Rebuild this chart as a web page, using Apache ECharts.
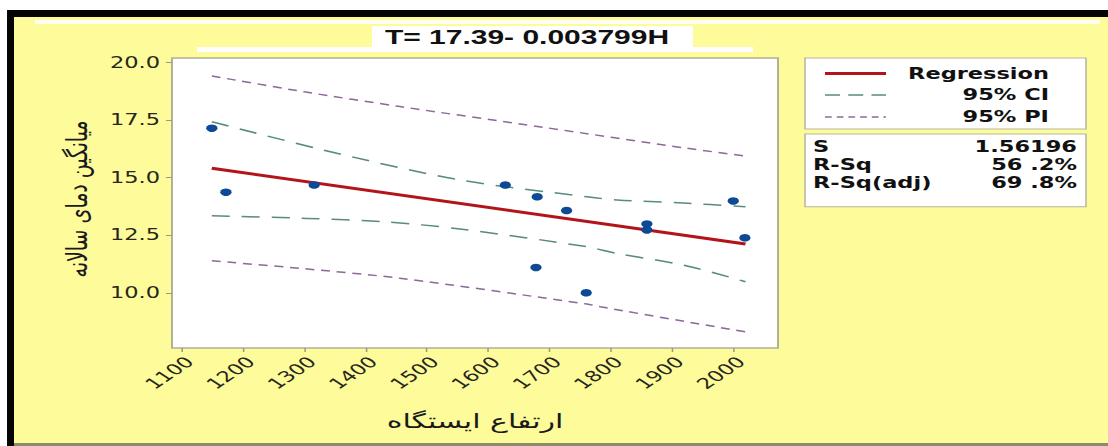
<!DOCTYPE html>
<html>
<head>
<meta charset="utf-8">
<script src="https://cdn.jsdelivr.net/npm/echarts@6/dist/echarts.min.js"></script>
<style>
html,body{margin:0;padding:0;background:#fff;overflow:hidden;width:1108px;height:446px}
#c{width:739px;height:446px;transform:scaleX(1.49932);transform-origin:0 0;}
</style>
</head>
<body>
<div id="c"></div>
<script>
// ---- data ----
const xTicks = [1100,1200,1300,1400,1500,1600,1700,1800,1900,2000];
const yTicks = [10,12.5,15,17.5,20];
const obsH = [1149,1172,1316,1628,1680,1728,1678,1760,1859,1859,2000,2019];
const obsT = [17.15,14.37,14.68,14.68,14.17,13.57,11.10,10.00,12.99,12.73,13.99,12.39];
const fitH = [1149,2020];
const fitT = [15.41,12.12];
const ciUpperH = [1149,1353,1554,1761,1810,1918,2020];
const ciUpperT = [17.43,16.06,14.90,14.17,14.03,13.90,13.74];
const ciLowerH = [1149,1304,1429,1554,1761,1810,1919,2020];
const ciLowerT = [13.35,13.23,13.09,12.77,12.00,11.71,11.20,10.48];
const piUpperH = [1149,1300,1456,1690,1924,2020];
const piUpperT = [19.42,18.73,18.09,17.19,16.28,15.94];
const piLowerH = [1149,1293,1456,1761,1783,2020];
const piLowerT = [11.39,11.06,10.63,9.51,9.39,8.30];
const titleText = 'T= 17.39- 0.003799H';
const xName = 'ارتفاع ایستگاه';
const yName = 'میانگین دمای سالانه';
const legendNames = ['Regression','95% CI','95% PI'];
const statNames = ['S','R-Sq','R-Sq(adj)'];
const statValues = ['1.56196','56 .2%','69 .8%'];

// ---- layout (design space is the reference divided horizontally by S) ----
const S = 1108/739;
const X = px => px / S;
const zip = (a,b) => a.map((v,i)=>[v,b[i]]);

const C_REG = '#b3141c', C_CI = '#5a8a80', C_PI = '#8d6a98', C_PT = '#0c4a96';
const tickFont = {fontFamily:'DejaVu Sans', fontSize:15, color:'#26261a'};
const legFont = 'bold 15px "DejaVu Sans", sans-serif';

const g = [];
// frame
g.push({type:'rect', z:100, shape:{x:0,y:0,width:739,height:10}, style:{fill:'#ffffff'}});
g.push({type:'rect', z:100, shape:{x:0,y:0,width:X(7),height:446}, style:{fill:'#ffffff'}});
g.push({type:'rect', z:100, shape:{x:X(7),y:10,width:739,height:7}, style:{fill:'#050505'}});
g.push({type:'rect', z:100, shape:{x:X(7),y:10,width:X(7),height:436}, style:{fill:'#050505'}});
g.push({type:'rect', z:100, shape:{x:X(35),y:20,width:X(1065),height:4}, style:{fill:'#fffef0'}});
g.push({type:'rect', z:100, shape:{x:X(14),y:443,width:739,height:3}, style:{fill:'#8c8c6c'}});
// title
g.push({type:'rect', z:100, shape:{x:X(372),y:26,width:X(321),height:21}, style:{fill:'#ffffff'}});
g.push({type:'rect', z:100, shape:{x:X(197),y:47,width:X(556),height:5}, style:{fill:'#ffffff'}});
g.push({type:'text', z:101, x:X(527), y:36.5, style:{text:titleText, align:'center', verticalAlign:'middle', font:'bold 20px "Liberation Sans", Arial, sans-serif', fill:'#111'}});
// axis names
g.push({type:'text', z:101, x:X(475), y:421, style:{text:xName, align:'center', verticalAlign:'middle', font:'20px "DejaVu Sans", sans-serif', fill:'#1a1a1a'}});
g.push({type:'text', z:101, x:X(78), y:199, rotation:Math.PI/2, style:{text:yName, align:'center', verticalAlign:'middle', font:'19px "DejaVu Sans", sans-serif', fill:'#1a1a1a'}});
// legend box
const boxX = X(805), boxW = X(281);
g.push({type:'rect', z:100, shape:{x:boxX,y:58,width:boxW,height:71}, style:{fill:'#ffffff', stroke:'#b5b5a0', lineWidth:1}});
g.push({type:'rect', z:100, shape:{x:boxX,y:134,width:boxW,height:72.7}, style:{fill:'#ffffff', stroke:'#b5b5a0', lineWidth:1}});
const legY = [73.5, 95, 117];
const legStyles = [
  {stroke:C_REG, lineWidth:3},
  {stroke:C_CI, lineWidth:1.5, lineDash:[10,5.5]},
  {stroke:C_PI, lineWidth:1.5, lineDash:[4.5,3.3]}
];
legendNames.forEach((n,i)=>{
  g.push({type:'line', z:101, shape:{x1:X(825),y1:legY[i],x2:X(886),y2:legY[i]}, style:legStyles[i]});
  g.push({type:'text', z:101, x:X(1049), y:legY[i], style:{text:n, align:'right', verticalAlign:'middle', font:legFont, fill:'#111'}});
});
const statY = [147, 164.5, 182.5];
statNames.forEach((n,i)=>{
  g.push({type:'text', z:101, x:X(813), y:statY[i], style:{text:n, align:'left', verticalAlign:'middle', font:legFont, fill:'#111'}});
  g.push({type:'text', z:101, x:X(1077), y:statY[i], style:{text:statValues[i], align:'right', verticalAlign:'middle', font:legFont, fill:'#111'}});
});

const chart = echarts.init(document.getElementById('c'), null, {renderer:'svg'});
chart.setOption({
  animation:false,
  backgroundColor:'#fdfb9a',
  grid:{left:X(172), top:58, width:X(606), height:290, show:true, backgroundColor:'#ffffff', borderColor:'#b0b096', borderWidth:1.3},
  xAxis:{type:'value', min:1084, max:2073,
    axisLine:{show:false}, splitLine:{show:false},
    axisTick:{show:true, length:4, customValues:xTicks, lineStyle:{color:'#9a9a82', width:1}},
    axisLabel:Object.assign({customValues:xTicks, rotate:45, margin:6, verticalAlign:'top', formatter:v=>String(v)}, tickFont)},
  yAxis:{type:'value', min:7.6, max:20.2,
    axisLine:{show:false}, splitLine:{show:false},
    axisTick:{show:true, length:4, customValues:yTicks, lineStyle:{color:'#9a9a82', width:1}},
    axisLabel:Object.assign({customValues:yTicks, margin:8, formatter:v=>Number(v).toFixed(1)}, tickFont)},
  series:[
    {type:'line', data:zip(piUpperH,piUpperT), smooth:0.3, showSymbol:false, lineStyle:{color:C_PI, width:1.5, type:[6,4.5]}, z:2},
    {type:'line', data:zip(piLowerH,piLowerT), smooth:0.3, showSymbol:false, lineStyle:{color:C_PI, width:1.5, type:[6,4.5]}, z:2},
    {type:'line', data:zip(ciUpperH,ciUpperT), smooth:0.3, showSymbol:false, lineStyle:{color:C_CI, width:1.5, type:[12,8]}, z:2},
    {type:'line', data:zip(ciLowerH,ciLowerT), smooth:0.3, showSymbol:false, lineStyle:{color:C_CI, width:1.5, type:[12,8]}, z:2},
    {type:'line', data:zip(fitH,fitT), showSymbol:false, lineStyle:{color:C_REG, width:3}, z:3},
    {type:'scatter', data:zip(obsH,obsT), symbol:'circle', symbolSize:7.5, itemStyle:{color:C_PT, opacity:1}, z:4}
  ],
  graphic:{elements:g}
});
</script>
</body>
</html>
